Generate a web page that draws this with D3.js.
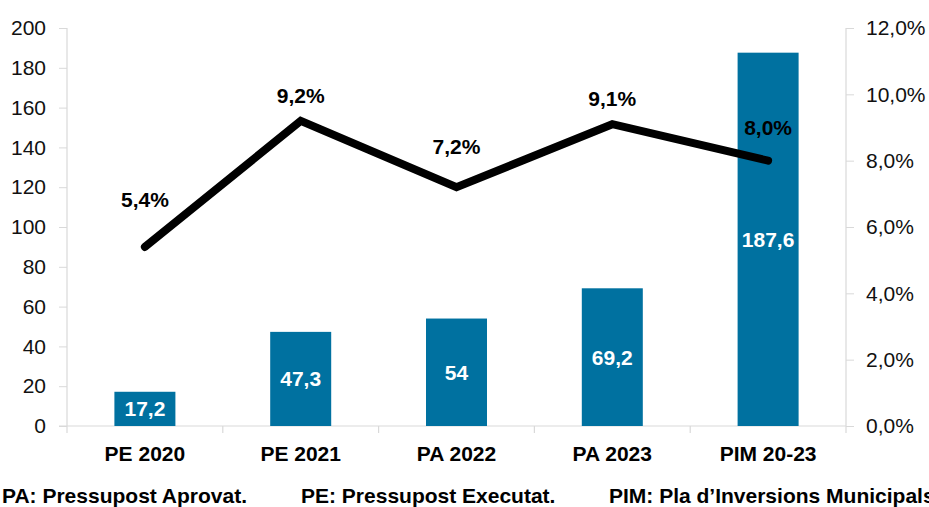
<!DOCTYPE html>
<html><head><meta charset="utf-8">
<script src="https://cdn.jsdelivr.net/npm/d3@7"></script>
<style>
html,body{margin:0;padding:0;background:#fff;}
svg{display:block;font-family:"Liberation Sans",Arial,Helvetica,sans-serif;}
</style></head>
<body>
<svg id="chart" width="929" height="507"></svg>
<script>
const categories = ["PE 2020","PE 2021","PA 2022","PA 2023","PIM 20-23"];
const barValues = [17.2, 47.3, 54, 69.2, 187.6];
const barLabels = ["17,2","47,3","54","69,2","187,6"];
const pctValues = [5.4, 9.2, 7.2, 9.1, 8.0];
const pctLabels = ["5,4%","9,2%","7,2%","9,1%","8,0%"];
const leftTicks = [0,20,40,60,80,100,120,140,160,180,200];
const rightTicks = [0,2,4,6,8,10,12];
const legendNotes = ["PA: Pressupost Aprovat.","PE: Pressupost Executat.","PIM: Pla d\u2019Inversions Municipals"];

const svg = d3.select("#chart");
const L = 67, R = 846, T = 28, B = 426;
const grey = "#d9d9d9";
const barColor = "#0071a0";
const FS = 21;

const x = d3.scaleBand().domain(categories).range([L, R]).paddingInner(0).paddingOuter(0);
const yL = d3.scaleLinear().domain([0,200]).range([B, T]);
const yR = d3.scaleLinear().domain([0,12]).range([B, T]);

// left axis
const gL = svg.append("g").attr("transform", `translate(${L},0)`)
  .call(d3.axisLeft(yL).tickValues(leftTicks).tickSize(8).tickPadding(13).tickFormat(d3.format("d")));
gL.select(".domain").remove();
gL.selectAll(".tick line").attr("stroke", grey);
gL.selectAll("text").attr("font-size", FS).attr("fill", "#111");
svg.append("line").attr("x1", L).attr("x2", L).attr("y1", T).attr("y2", B + 7).attr("stroke", grey).attr("stroke-width", 1.2);

// right axis
const gR = svg.append("g").attr("transform", `translate(${R},0)`)
  .call(d3.axisRight(yR).tickValues(rightTicks).tickSize(8).tickPadding(12)
    .tickFormat(d => d.toFixed(1).replace(".", ",") + "%"));
gR.select(".domain").remove();
gR.selectAll(".tick line").attr("stroke", grey);
gR.selectAll("text").attr("font-size", FS).attr("fill", "#111");
svg.append("line").attr("x1", R).attr("x2", R).attr("y1", T).attr("y2", B + 7).attr("stroke", grey).attr("stroke-width", 1.2);

// baseline + category boundary ticks
svg.append("line").attr("x1", L - 8).attr("x2", R).attr("y1", B).attr("y2", B).attr("stroke", grey).attr("stroke-width", 1.2);
categories.slice(1).forEach(c => {
  svg.append("line").attr("x1", x(c)).attr("x2", x(c)).attr("y1", B).attr("y2", B + 7).attr("stroke", grey).attr("stroke-width", 1.2);
});

// bars
const bw = 61;
svg.selectAll("rect.bar").data(barValues).join("rect").attr("class","bar")
  .attr("x", (d,i) => x(categories[i]) + x.bandwidth()/2 - bw/2)
  .attr("width", bw)
  .attr("y", d => yL(d))
  .attr("height", d => B - yL(d))
  .attr("fill", barColor);

svg.selectAll("text.blab").data(barValues).join("text").attr("class","blab")
  .attr("x", (d,i) => x(categories[i]) + x.bandwidth()/2)
  .attr("y", d => (yL(d) + B)/2)
  .attr("dy", "0.36em")
  .attr("text-anchor", "middle")
  .attr("font-size", FS).attr("font-weight", "bold").attr("fill", "#fff")
  .text((d,i) => barLabels[i]);

// category labels
svg.selectAll("text.cat").data(categories).join("text").attr("class","cat")
  .attr("x", d => x(d) + x.bandwidth()/2)
  .attr("y", 461)
  .attr("text-anchor", "middle")
  .attr("font-size", FS).attr("font-weight", "bold").attr("fill", "#000")
  .text(d => d);

// line
const line = d3.line().x((d,i) => x(categories[i]) + x.bandwidth()/2).y(d => yR(d));
svg.append("path").datum(pctValues).attr("d", line)
  .attr("fill", "none").attr("stroke", "#000").attr("stroke-width", 8)
  .attr("stroke-linejoin", "miter").attr("stroke-linecap", "round");

const labelLift = [47, 25, 41, 26, 33];
svg.selectAll("text.plab").data(pctValues).join("text").attr("class","plab")
  .attr("x", (d,i) => x(categories[i]) + x.bandwidth()/2)
  .attr("y", (d,i) => yR(d) - labelLift[i])
  .attr("dy", "0.36em")
  .attr("text-anchor", "middle")
  .attr("font-size", FS).attr("font-weight", "bold").attr("fill", "#000")
  .text((d,i) => pctLabels[i]);

// legend notes
const noteX = [2, 301, 609];
svg.selectAll("text.note").data(legendNotes).join("text").attr("class","note")
  .attr("x", (d,i) => noteX[i])
  .attr("y", 503)
  .attr("font-size", FS).attr("font-weight", "bold").attr("fill", "#000")
  .text(d => d);
</script>
</body></html>
